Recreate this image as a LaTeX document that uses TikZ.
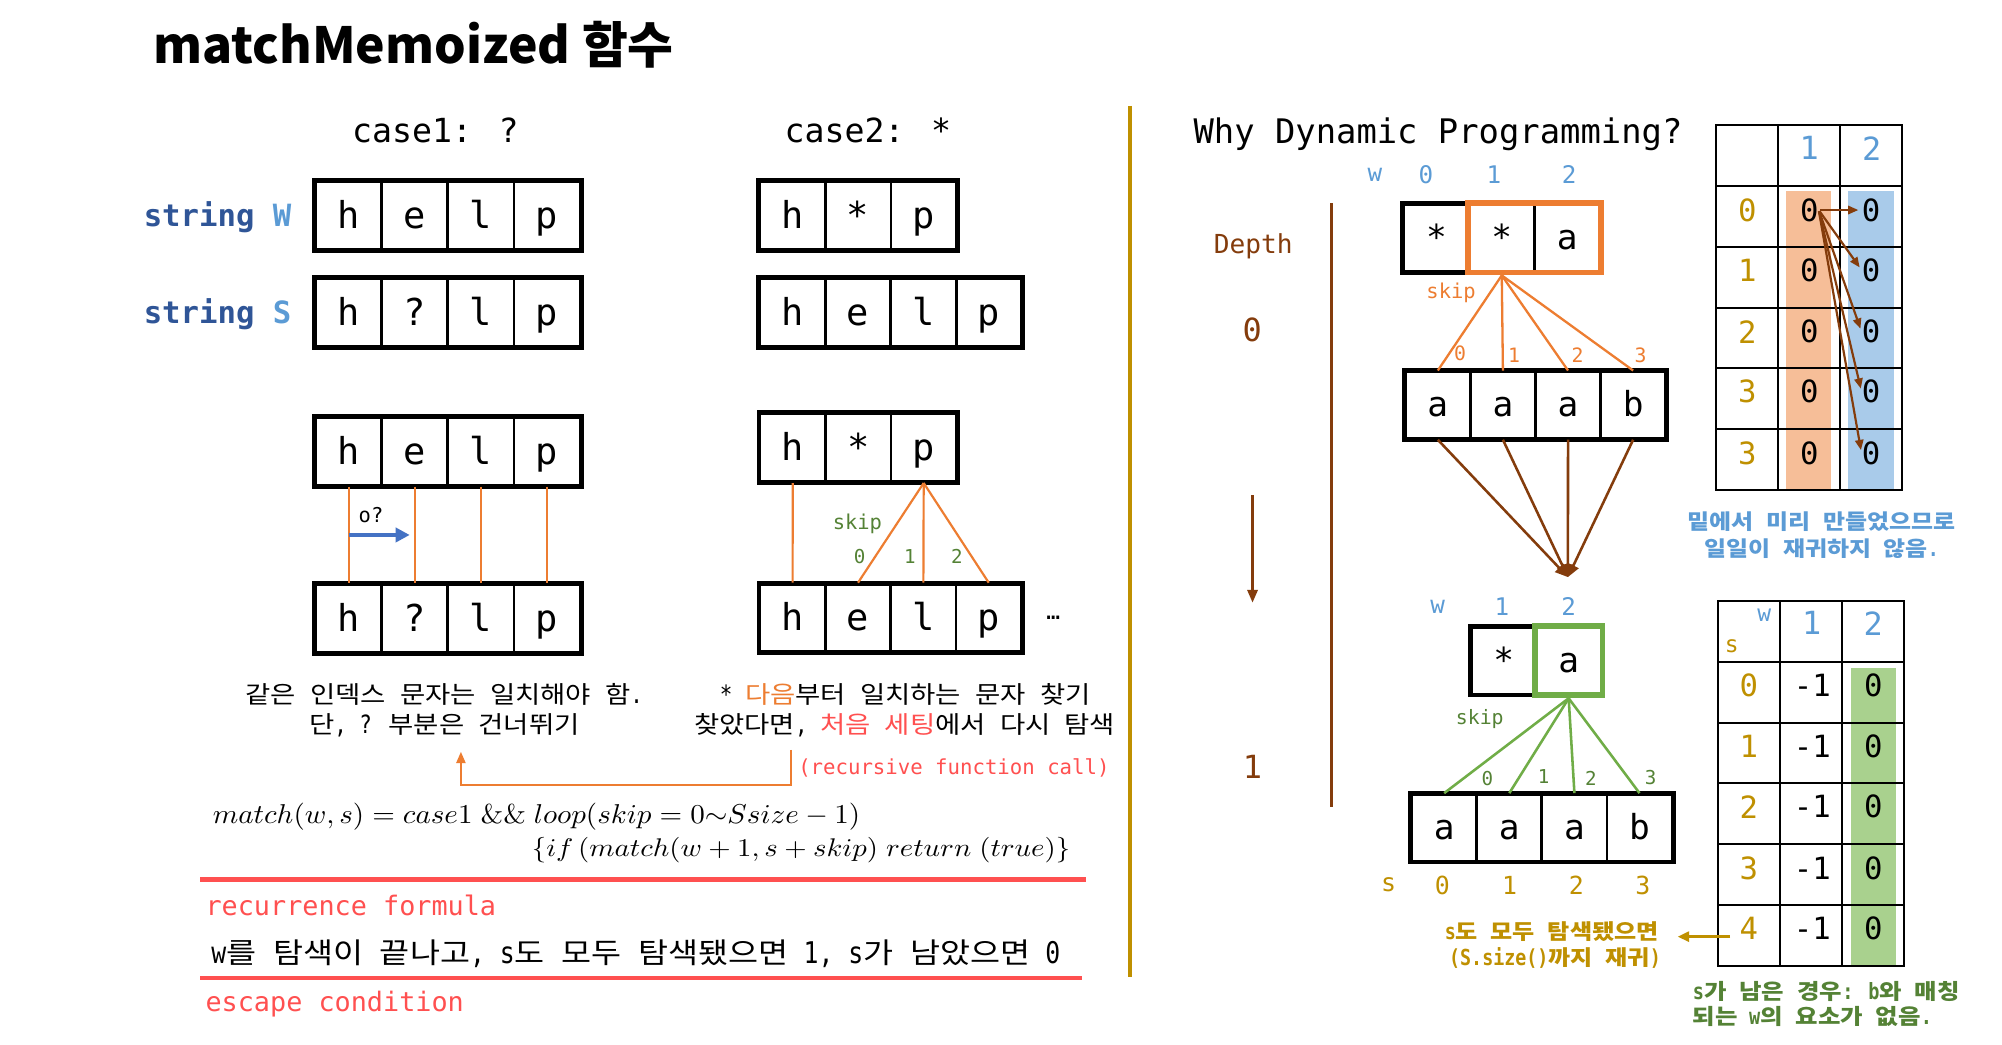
\documentclass[tikz,border=0pt]{standalone}
\usepackage{fontspec}
\usepackage{graphicx}
\usetikzlibrary{arrows.meta}
\newfontfamily\mono{DejaVu Sans Mono}
\newfontfamily\monoC[Scale=1.2,FakeStretch=0.83]{DejaVu Sans Mono}
\newfontfamily\ko[Scale=1.15,WordSpace=2.3,FakeStretch=1.14]{Noto Sans CJK KR}
\newfontfamily\kt{Noto Sans CJK KR}
\newcommand\K[1]{{\ko #1}}
\newcommand\FS[1]{\fontsize{#1}{#1}\selectfont}
\definecolor{cOr}{HTML}{ED7D31}
\definecolor{cRed}{HTML}{FF5050}
\definecolor{cGold}{HTML}{BF9000}
\definecolor{cBrown}{HTML}{843C0C}
\definecolor{cLB}{HTML}{5B9BD5}
\definecolor{cDB}{HTML}{2F5597}
\definecolor{cBlue}{HTML}{4472C4}
\definecolor{cGreen}{HTML}{70AD47}
\definecolor{cDG}{HTML}{548235}
\definecolor{fOr}{HTML}{F6BE98}
\definecolor{fBl}{HTML}{A9CBEA}
\definecolor{fGr}{HTML}{A9D18E}
\newcommand\cellrow[6]{%
  \foreach \t [count=\i] in {#6} {\node[#5, minimum width=#4pt] (#1\i) at ({#2+#4*(\i-0.5)},#3) {\t};}%
}
\begin{document}
\begin{tikzpicture}[x=1pt,y=-1pt,
  cell/.style={draw, line width=2.2pt, inner sep=0pt, minimum height=53pt, text height=22pt, text depth=2pt, font=\mono\FS{29}},
  rcell/.style={cell, minimum height=52pt, text height=20pt, font=\mono\FS{27}},
  boxframe/.style={draw, line width=3.2pt},
  oline/.style={draw=cOr, line width=1.7pt},
  gline/.style={draw=cGreen, line width=2pt},
  lbl/.style={inner sep=0pt},
  brarrow/.style={draw=cBrown, line width=1.7pt, -{Triangle[length=8pt,width=6.5pt]}},
  tline/.style={draw=black, line width=1.5pt},
  captext/.style={inner sep=0pt, font=\monoC\FS{16.4}}
]
\useasboundingbox (0,0) rectangle (1568,818);
\fill[white] (0,0) rectangle (1568,818);

% title
\node[lbl, anchor=base west, font=\kt\bfseries\FS{39}] (title) at (120,50) {matchMemoized 함수};

% case headings
\node[lbl, anchor=base, font=\mono\FS{26}] (case1) at (341,111.5) {case1: ?};
\node[lbl, anchor=base, font=\mono\FS{26}] (case2) at (679.7,111.5) {case2: *};
\node[lbl, anchor=base west, font=\mono\bfseries\FS{24}] (strW) at (112.4,177.5) {\textcolor{cDB}{string} \textcolor{cLB}{W}};
\node[lbl, anchor=base west, font=\mono\bfseries\FS{24}] (strS) at (112.4,253.2) {\textcolor{cDB}{string} \textcolor{cLB}{S}};

% upper rows
\cellrow{aw}{247.2}{169}{51.8}{cell}{h,e,l,p}
\draw[boxframe] (aw1.north west) rectangle (aw4.south east);
\cellrow{as}{247.2}{244.7}{51.8}{cell}{h,?,l,p}
\draw[boxframe] (as1.north west) rectangle (as4.south east);
\cellrow{bw}{595}{169}{51.4}{cell}{h,*,p}
\draw[boxframe] (bw1.north west) rectangle (bw3.south east);
\cellrow{bs}{595}{244.7}{51.3}{cell}{h,e,l,p}
\draw[boxframe] (bs1.north west) rectangle (bs4.south east);

% lower case1
\cellrow{cw}{247.2}{353.5}{51.8}{cell}{h,e,l,p}
\draw[boxframe] (cw1.north west) rectangle (cw4.south east);
\cellrow{cs}{247.2}{484.5}{51.8}{cell}{h,?,l,p}
\draw[boxframe] (cs1.north west) rectangle (cs4.south east);
\foreach \i in {1,...,4} \draw[oline] (cw\i.south) -- (cs\i.north);
\path (cw1.south) -- (cs1.north) coordinate[pos=0.5] (ba);
\coordinate (bb) at (ba -| cs2.north);
\draw[draw=cBlue, line width=3.4pt, shorten >=4pt, -{Triangle[length=11pt,width=11pt]}] (ba) -- (bb);
\node[lbl, font=\mono\FS{16}] (oq) at (290.6,403.3) {o?};

% lower case2
\cellrow{dw}{595.2}{350.7}{51.3}{cell}{h,*,p}
\draw[boxframe] (dw1.north west) rectangle (dw3.south east);
\cellrow{ds}{595.2}{484}{51.2}{cell}{h,e,l,p}
\draw[boxframe] (ds1.north west) rectangle (ds4.south east);
\draw[oline] (dw1.south) -- (ds1.north);
\foreach \i in {2,3,4} \draw[oline] (dw3.south) -- (ds\i.north);
\node[lbl, font=\mono\FS{16}, text=cDG] (skipA) at (671.5,410) {skip};
\node[lbl, font=\mono\FS{15}, text=cDG] (sa0) at (673.2,436) {0};
\node[lbl, font=\mono\FS{15}, text=cDG] (sa1) at (712.7,436) {1};
\node[lbl, font=\mono\FS{15}, text=cDG] (sa2) at (749.4,436) {2};
\node[lbl, font=\mono\FS{18}] (dots) at (825,484) {…};

% captions
\node[captext] (capL1) at (348,544) {\K{같은 인덱스 문자는 일치해야 함}.};
\node[captext] (capL2) at (348,567.8) {\K{단}, ? \K{부분은 건너뛰기}};
\node[captext] (capR1) at (709,544) {* \textcolor{cOr}{\K{다음}}\K{부터 일치하는 문자 찾기}};
\node[captext] (capR2) at (708.5,567.8) {\K{찾았다면}, \textcolor{cRed}{\K{처음 세팅}}\K{에서 다시 탐색}};
\coordinate (brA) at (619.6,587.4);
\coordinate (brB) at (361,588.7);
\draw[oline, line width=2pt, -{Triangle[length=9pt,width=7pt]}] (brA) -- ++(0,27.4) -| (brB);
\node[lbl, anchor=west, font=\mono\FS{16.2}, text=cRed] (rfc) at (625,601.8) {(recursive function call)};

% formula
\node[lbl, anchor=base west] (f1) at (166.5,644.8) {\resizebox{507pt}{16pt}{$match(w,s) = case1\;\&\&\;loop(skip = 0{\sim}Ssize - 1)$}};
\node[lbl, anchor=base west] (f2) at (416.4,671) {\resizebox{421.6pt}{15pt}{$\{if\,(match(w+1,s+skip)\;return\;(true)\}$}};
\draw[draw=cRed, line width=3.4pt] (156.9,688.7) -- (850.3,688.7);
\node[lbl, anchor=west, font=\mono\FS{21}, text=cRed] (recf) at (160.8,708.8) {recurrence formula};
\node[lbl, anchor=west, font=\monoC\FS{19.5}] (esc) at (165.3,746.6) {w\K{를 탐색이 끝나고}, s\K{도 모두 탐색됐으면} 1, s\K{가 남았으면} 0};
\draw[draw=cRed, line width=3.4pt] (156.9,766.2) -- (847.5,766.2);
\node[lbl, anchor=west, font=\mono\FS{21}, text=cRed] (escc) at (160.8,786.4) {escape condition};

% divider
\draw[draw=cGold, line width=3pt] (885,83) -- (885,765);

% right side
\node[lbl, anchor=base west, font=\mono\FS{26.5}] (why) at (934.6,112.3) {Why Dynamic Programming?};
\node[lbl, font=\mono\FS{19}, text=cLB] (wl) at (1076.9,137) {w};
\node[lbl, font=\mono\FS{19}, text=cLB] (wl0) at (1116.8,137) {0};
\node[lbl, font=\mono\FS{19}, text=cLB] (wl1) at (1170,137) {1};
\node[lbl, font=\mono\FS{19}, text=cLB] (wl2) at (1229,137) {2};
\node[lbl, font=\mono\FS{20.5}, text=cBrown] (depth) at (981.6,193) {Depth};
\node[lbl, font=\mono\FS{25}, text=cBrown] (d0) at (980.8,258.5) {0};
\node[lbl, font=\mono\FS{25}, text=cBrown] (d1) at (981,600.5) {1};
\draw[draw=cBrown, line width=2.5pt] (1042.7,159.3) -- (1042.7,631.8);
\coordinate (dA) at (981,387.7);
\coordinate (dB) at (981,472);
\draw[draw=cBrown, line width=2pt, -{Triangle[length=10pt,width=8pt]}] (dA) -- (dB);

\cellrow{t}{1099.4}{186.3}{51.2}{rcell}{*,*,a}
\draw[boxframe] (t1.north west) rectangle (t3.south east);
\draw[draw=cOr, line width=4.5pt] (t2.north west) rectangle (t3.south east);
\node[lbl, font=\mono\FS{16}, text=cOr] (skipB) at (1136.5,229.5) {skip};
\cellrow{m}{1100.6}{317.3}{51}{rcell}{a,a,a,b}
\draw[boxframe] (m1.north west) rectangle (m4.south east);
\foreach \i in {1,...,4} \draw[draw=cOr, line width=1.8pt] ([yshift=-2.3pt]t2.south) -- (m\i.north);
\node[lbl, font=\mono\FS{15.5}, text=cOr] (o0) at (1143.5,276.5) {0};
\node[lbl, font=\mono\FS{15.5}, text=cOr] (o1) at (1185.8,278) {1};
\node[lbl, font=\mono\FS{15.5}, text=cOr] (o2) at (1235.6,278) {2};
\node[lbl, font=\mono\FS{15.5}, text=cOr] (o3) at (1285,278.6) {3};
\coordinate (conv) at (1228,452);
\foreach \i in {1,...,4} \draw[draw=cBrown, line width=2pt, -{Triangle[length=10pt,width=9pt]}] (m\i.south) -- (conv);

\node[lbl, font=\mono\FS{19}, text=cLB] (vl) at (1126,475) {w};
\node[lbl, font=\mono\FS{19}, text=cLB] (vl1) at (1176.3,475) {1};
\node[lbl, font=\mono\FS{19}, text=cLB] (vl2) at (1228.5,475) {2};
\cellrow{u}{1152.4}{517.5}{50.8}{rcell}{*,a}
\draw[boxframe] (u1.north west) rectangle (u2.south east);
\draw[draw=cGreen, line width=4.5pt] (u2.north west) rectangle (u2.south east);
\node[lbl, font=\mono\FS{15.5}, text=cDG] (skipC) at (1159,563.4) {skip};
\cellrow{n}{1105.6}{648.3}{51}{rcell}{a,a,a,b}
\draw[boxframe] (n1.north west) rectangle (n4.south east);
\foreach \i in {1,...,4} \draw[gline] ([yshift=-2.3pt]u2.south) -- (n\i.north);
\node[lbl, font=\mono\FS{15}, text=cDG] (g0) at (1165,609.6) {0};
\node[lbl, font=\mono\FS{15}, text=cDG] (g1) at (1209,608.3) {1};
\node[lbl, font=\mono\FS{15}, text=cDG] (g2) at (1246,609.6) {2};
\node[lbl, font=\mono\FS{15}, text=cDG] (g3) at (1292.8,608.8) {3};
\node[lbl, font=\mono\FS{19.5}, text=cGold] (sl) at (1087.6,693.2) {s};
\node[lbl, font=\mono\FS{19.5}, text=cGold] (sl0) at (1129.6,693.2) {0};
\node[lbl, font=\mono\FS{19.5}, text=cGold] (sl1) at (1182.3,693.2) {1};
\node[lbl, font=\mono\FS{19.5}, text=cGold] (sl2) at (1234.6,693.2) {2};
\node[lbl, font=\mono\FS{19.5}, text=cGold] (sl3) at (1286.8,693.2) {3};
\node[lbl, font=\monoC\bfseries\FS{14.4}, text=cGold] (capG1) at (1215.4,729.7) {s\K{도 모두 탐색됐으면}};
\node[lbl, font=\monoC\bfseries\FS{14.4}, text=cGold] (capG2) at (1217.9,750.6) {(S.size()\K{까지 재귀})};

% table 1
\fill[fOr] (1399,149.3) rectangle (1434,383.8);
\fill[fBl] (1447.6,149.3) rectangle (1483.4,383.8);
\draw[tline] (1343.7,97.9) rectangle (1490,383.8);
\foreach \x in {1392.8,1441.4} \draw[tline] (\x,97.9) -- (\x,383.8);
\foreach \y in {145.7,193.2,241,288.5,336.2} \draw[tline] (1343.7,\y) -- (1490,\y);
\node[lbl, font=\mono\FS{25}, text=cLB] (h11) at (1417,116.2) {1};
\node[lbl, font=\mono\FS{25}, text=cLB] (h12) at (1466,116.2) {2};
\foreach \y/\l [count=\i from 0] in {164.5/0,211.5/1,259.8/2,306.8/3,355/3} {
  \node[lbl, font=\mono\FS{24}, text=cGold] (r\i) at (1368.5,\y) {\l};
  \node[lbl, font=\mono\FS{24}] (a\i) at (1417,\y) {0};
  \node[lbl, font=\mono\FS{24}] (b\i) at (1465.4,\y) {0};
}
\foreach \i in {0,...,4} \draw[brarrow, shorten <=1pt, shorten >=2.5pt] (a0.east) -- (b\i.west);
\node[lbl, font=\monoC\bfseries\FS{14.3}, text=cLB] (capB1) at (1426.7,408.6) {\K{밑에서 미리 만들었으므로}};
\node[lbl, font=\monoC\bfseries\FS{14.3}, text=cLB] (capB2) at (1426.7,429.5) {\K{일일이 재귀하지 않음}.};

% table 2
\fill[fGr] (1449.7,523) rectangle (1485,756.6);
\draw[tline] (1345.2,470.4) rectangle (1491.3,756.6);
\foreach \x in {1394.1,1442.9} \draw[tline] (\x,470.4) -- (\x,756.6);
\foreach \y in {518.2,566,613.5,661.3,708.8} \draw[tline] (1345.2,\y) -- (1491.3,\y);
\node[lbl, font=\mono\FS{18}, text=cLB] (hw) at (1381.8,481.7) {w};
\node[lbl, font=\mono\FS{18}, text=cGold] (hs) at (1356.3,506.5) {s};
\node[lbl, font=\mono\FS{25}, text=cLB] (h21) at (1419,488.2) {1};
\node[lbl, font=\mono\FS{25}, text=cLB] (h22) at (1467.2,488.2) {2};
\foreach \y/\l [count=\i from 0] in {536.5/0,584.8/1,631.8/2,680/3,727/4} {
  \node[lbl, font=\mono\FS{24}, text=cGold] (q\i) at (1369.8,\y) {\l};
  \node[lbl, font=\mono\FS{24}] (e\i) at (1419.4,\y) {-1};
  \node[lbl, font=\mono\FS{24}] (z\i) at (1467.2,\y) {0};
}
\coordinate (gA) at (1355,733.6);
\coordinate (gB) at (1314,733.6);
\draw[draw=cGold, line width=2pt, -{Triangle[length=9pt,width=8pt]}] (gA) -- (gB);
\node[lbl, anchor=west, font=\monoC\bfseries\FS{14.6}, text=cDG] (capN1) at (1325.7,776.7) {s\K{가 남은 경우}: b\K{와 매칭}};
\node[lbl, anchor=west, font=\monoC\bfseries\FS{14.6}, text=cDG] (capN2) at (1325.7,796.3) {\K{되는} w\K{의 요소가 없음}.};
\end{tikzpicture}
\end{document}
